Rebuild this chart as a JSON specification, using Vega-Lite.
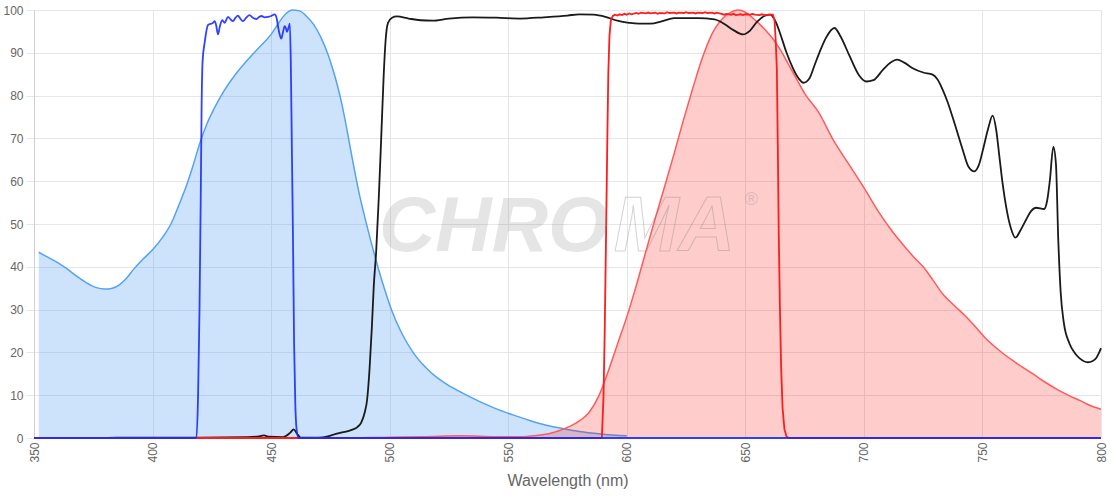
{
  "$schema": "https://vega.github.io/schema/vega-lite/v6.json",
  "width": 1067,
  "height": 428,
  "autosize": {"type": "none"},
  "padding": {"left": 34, "top": 10, "right": 19, "bottom": 62},
  "background": "white",
  "config": {
    "view": {"stroke": null},
    "font": "Liberation Sans",
    "axis": {
      "labelColor": "#666666",
      "labelFontSize": 12,
      "titleColor": "#666666",
      "gridColor": "#e6e6e6",
      "tickColor": "#e6e6e6",
      "domainColor": "#d0d0d0"
    }
  },
  "datasets": {
    "excitation": [
      {"wl": 352, "v": 43.4}, {"wl": 356, "v": 42.2}, {"wl": 360, "v": 41.0}, {"wl": 364, "v": 39.5},
      {"wl": 368, "v": 37.8}, {"wl": 372, "v": 36.3}, {"wl": 376, "v": 35.2}, {"wl": 380, "v": 34.8},
      {"wl": 383, "v": 35.0}, {"wl": 386, "v": 35.8}, {"wl": 389, "v": 37.3}, {"wl": 392, "v": 39.4},
      {"wl": 396, "v": 41.8}, {"wl": 400, "v": 44.0}, {"wl": 404, "v": 46.7}, {"wl": 408, "v": 50.3},
      {"wl": 411, "v": 54.3}, {"wl": 414, "v": 58.5}, {"wl": 417, "v": 63.5}, {"wl": 420, "v": 69.0},
      {"wl": 423, "v": 73.5}, {"wl": 426, "v": 77.0}, {"wl": 430, "v": 81.0}, {"wl": 435, "v": 85.0},
      {"wl": 440, "v": 88.3}, {"wl": 445, "v": 91.3}, {"wl": 450, "v": 94.3}, {"wl": 453, "v": 96.8},
      {"wl": 456, "v": 99.0}, {"wl": 459, "v": 100.0}, {"wl": 462, "v": 99.8}, {"wl": 465, "v": 98.5},
      {"wl": 468, "v": 96.6}, {"wl": 471, "v": 93.6}, {"wl": 474, "v": 89.6}, {"wl": 476, "v": 86.2},
      {"wl": 478, "v": 82.3}, {"wl": 480, "v": 77.6}, {"wl": 482, "v": 72.0}, {"wl": 484, "v": 66.0},
      {"wl": 487, "v": 57.5}, {"wl": 490, "v": 50.5}, {"wl": 494, "v": 42.0}, {"wl": 498, "v": 34.5},
      {"wl": 501, "v": 29.6}, {"wl": 505, "v": 24.6}, {"wl": 510, "v": 19.9}, {"wl": 515, "v": 16.6},
      {"wl": 520, "v": 14.1}, {"wl": 524, "v": 12.6}, {"wl": 530, "v": 10.7}, {"wl": 538, "v": 8.5},
      {"wl": 545, "v": 6.8}, {"wl": 552, "v": 5.4}, {"wl": 559, "v": 4.1}, {"wl": 566, "v": 3.0},
      {"wl": 573, "v": 2.2}, {"wl": 580, "v": 1.5}, {"wl": 590, "v": 0.9}, {"wl": 600, "v": 0.5}
    ],
    "emission": [
      {"wl": 350, "v": 0}, {"wl": 480, "v": 0}, {"wl": 500, "v": 0.2}, {"wl": 515, "v": 0.3},
      {"wl": 530, "v": 0.5}, {"wl": 545, "v": 0.3}, {"wl": 555, "v": 0.3}, {"wl": 562, "v": 0.6},
      {"wl": 567, "v": 1.0}, {"wl": 572, "v": 1.8}, {"wl": 576, "v": 2.7}, {"wl": 580, "v": 4.0},
      {"wl": 584, "v": 5.9}, {"wl": 588, "v": 9.6}, {"wl": 592, "v": 15.3}, {"wl": 596, "v": 21.8},
      {"wl": 600, "v": 28.3}, {"wl": 604, "v": 35.6}, {"wl": 608, "v": 43.5}, {"wl": 612, "v": 51.3},
      {"wl": 616, "v": 58.8}, {"wl": 620, "v": 66.5}, {"wl": 624, "v": 74.5}, {"wl": 628, "v": 82.0},
      {"wl": 632, "v": 89.0}, {"wl": 636, "v": 94.5}, {"wl": 640, "v": 97.8}, {"wl": 644, "v": 99.5},
      {"wl": 647, "v": 100.0}, {"wl": 650, "v": 99.5}, {"wl": 653, "v": 98.2}, {"wl": 656, "v": 96.7},
      {"wl": 659, "v": 95.0}, {"wl": 662, "v": 93.0}, {"wl": 665, "v": 90.5}, {"wl": 668, "v": 87.5},
      {"wl": 671, "v": 84.5}, {"wl": 675, "v": 80.5}, {"wl": 681, "v": 76.0}, {"wl": 687, "v": 69.7},
      {"wl": 693, "v": 64.5}, {"wl": 700, "v": 58.5}, {"wl": 706, "v": 53.0}, {"wl": 711, "v": 49.0},
      {"wl": 716, "v": 45.5}, {"wl": 721, "v": 42.3}, {"wl": 725, "v": 40.0}, {"wl": 729, "v": 37.0},
      {"wl": 733, "v": 33.8}, {"wl": 738, "v": 31.0}, {"wl": 743, "v": 28.4}, {"wl": 747, "v": 26.0},
      {"wl": 751, "v": 23.5}, {"wl": 757, "v": 20.5}, {"wl": 763, "v": 18.0}, {"wl": 767, "v": 16.5},
      {"wl": 771, "v": 15.1}, {"wl": 776, "v": 13.2}, {"wl": 782, "v": 11.2}, {"wl": 787, "v": 9.8},
      {"wl": 791, "v": 8.8}, {"wl": 795, "v": 7.7}, {"wl": 800, "v": 6.7}
    ],
    "dichroic": [
      {"wl": 381, "v": 0}, {"wl": 385, "v": 0.1}, {"wl": 400, "v": 0.1}, {"wl": 420, "v": 0.1},
      {"wl": 440, "v": 0.2}, {"wl": 445, "v": 0.4}, {"wl": 447, "v": 0.6}, {"wl": 449, "v": 0.3},
      {"wl": 455, "v": 0.2}, {"wl": 458, "v": 1.2}, {"wl": 459.5, "v": 2.0}, {"wl": 461, "v": 1.0},
      {"wl": 462.5, "v": 0.1}, {"wl": 470, "v": 0.1}, {"wl": 474, "v": 0.4}, {"wl": 477, "v": 0.9},
      {"wl": 480, "v": 1.3}, {"wl": 484, "v": 1.9}, {"wl": 486.5, "v": 2.6}, {"wl": 488, "v": 3.6},
      {"wl": 489.5, "v": 6.0}, {"wl": 490.5, "v": 9.0}, {"wl": 491.5, "v": 16.0}, {"wl": 492.5, "v": 26.0},
      {"wl": 493.3, "v": 35.5}, {"wl": 494.3, "v": 43.5}, {"wl": 495.4, "v": 56.0}, {"wl": 496.5, "v": 71.0},
      {"wl": 497.5, "v": 85.0}, {"wl": 498.3, "v": 93.0}, {"wl": 499.3, "v": 97.0}, {"wl": 501, "v": 98.2},
      {"wl": 503, "v": 98.5}, {"wl": 508, "v": 98.0}, {"wl": 513, "v": 97.6}, {"wl": 518, "v": 97.5},
      {"wl": 525, "v": 98.0}, {"wl": 535, "v": 98.3}, {"wl": 545, "v": 98.2}, {"wl": 555, "v": 98.0},
      {"wl": 565, "v": 98.3}, {"wl": 575, "v": 98.7}, {"wl": 580, "v": 99.0}, {"wl": 586, "v": 98.9},
      {"wl": 591, "v": 98.4}, {"wl": 596, "v": 97.5}, {"wl": 601, "v": 97.0}, {"wl": 605, "v": 96.8},
      {"wl": 610, "v": 96.8}, {"wl": 615, "v": 97.4}, {"wl": 620, "v": 98.1}, {"wl": 630, "v": 98.1},
      {"wl": 637, "v": 97.8}, {"wl": 641, "v": 96.8}, {"wl": 645, "v": 95.3}, {"wl": 649, "v": 94.3},
      {"wl": 652, "v": 95.2}, {"wl": 655, "v": 97.3}, {"wl": 658, "v": 98.6}, {"wl": 660.5, "v": 98.9},
      {"wl": 663, "v": 97.0}, {"wl": 665, "v": 94.0}, {"wl": 667.2, "v": 90.3}, {"wl": 670, "v": 86.5},
      {"wl": 672.5, "v": 84.0}, {"wl": 674.5, "v": 83.0}, {"wl": 677, "v": 84.0}, {"wl": 679, "v": 86.8},
      {"wl": 681.2, "v": 90.0}, {"wl": 684, "v": 93.5}, {"wl": 687.6, "v": 95.8}, {"wl": 690, "v": 94.0},
      {"wl": 694, "v": 89.2}, {"wl": 698, "v": 84.7}, {"wl": 701, "v": 83.3}, {"wl": 704, "v": 83.6},
      {"wl": 708, "v": 86.0}, {"wl": 711, "v": 87.6}, {"wl": 714, "v": 88.4}, {"wl": 717, "v": 87.7},
      {"wl": 720.6, "v": 86.4}, {"wl": 725, "v": 85.4}, {"wl": 729, "v": 84.9}, {"wl": 731, "v": 83.8},
      {"wl": 733.2, "v": 81.4}, {"wl": 735.3, "v": 78.5}, {"wl": 737.4, "v": 75.0}, {"wl": 741.7, "v": 67.3},
      {"wl": 744, "v": 63.5}, {"wl": 746.6, "v": 62.3}, {"wl": 748.5, "v": 63.8}, {"wl": 750.5, "v": 68.0},
      {"wl": 752.5, "v": 72.5}, {"wl": 754.3, "v": 75.3}, {"wl": 755.8, "v": 72.0}, {"wl": 757.1, "v": 66.0},
      {"wl": 758.5, "v": 59.5}, {"wl": 760, "v": 54.0}, {"wl": 762, "v": 49.0}, {"wl": 763.9, "v": 46.8},
      {"wl": 766, "v": 48.5}, {"wl": 768.4, "v": 51.0}, {"wl": 770.5, "v": 53.0}, {"wl": 772.6, "v": 53.8},
      {"wl": 776, "v": 53.5}, {"wl": 777.3, "v": 55.5}, {"wl": 778.4, "v": 60.0}, {"wl": 779.9, "v": 68.0},
      {"wl": 781, "v": 64.0}, {"wl": 782, "v": 46.0}, {"wl": 783, "v": 34.0}, {"wl": 784.3, "v": 27.0},
      {"wl": 786.6, "v": 22.2}, {"wl": 789, "v": 19.8}, {"wl": 791, "v": 18.6}, {"wl": 794.4, "v": 17.7},
      {"wl": 796.5, "v": 18.0}, {"wl": 798, "v": 18.7}, {"wl": 799, "v": 19.7}, {"wl": 800, "v": 21.0}
    ],
    "exciter": [
      {"wl": 350, "v": 0}, {"wl": 418.5, "v": 0}, {"wl": 419.2, "v": 10}, {"wl": 419.8, "v": 30},
      {"wl": 420.3, "v": 55}, {"wl": 420.7, "v": 78}, {"wl": 421.1, "v": 88}, {"wl": 422, "v": 92.5},
      {"wl": 423.4, "v": 96.5}, {"wl": 425.5, "v": 97.0}, {"wl": 426.2, "v": 97.4}, {"wl": 426.8, "v": 96.5},
      {"wl": 427.6, "v": 94.3}, {"wl": 428.4, "v": 96.2}, {"wl": 429.4, "v": 97.6}, {"wl": 430.4, "v": 97.0},
      {"wl": 431.8, "v": 98.4}, {"wl": 432.9, "v": 97.8}, {"wl": 433.9, "v": 97.4}, {"wl": 435, "v": 98.2},
      {"wl": 436, "v": 98.7}, {"wl": 437, "v": 98.0}, {"wl": 438.1, "v": 97.4}, {"wl": 439.5, "v": 98.2},
      {"wl": 440.9, "v": 98.8}, {"wl": 442.3, "v": 98.2}, {"wl": 443.8, "v": 97.9}, {"wl": 445, "v": 98.4},
      {"wl": 445.9, "v": 98.6}, {"wl": 447.3, "v": 98.3}, {"wl": 448.7, "v": 98.4}, {"wl": 450, "v": 98.6},
      {"wl": 451.5, "v": 99.0}, {"wl": 452.3, "v": 98.2}, {"wl": 452.9, "v": 96.2}, {"wl": 453.6, "v": 94.3},
      {"wl": 454.3, "v": 93.3}, {"wl": 455, "v": 94.8}, {"wl": 455.7, "v": 96.2}, {"wl": 456.2, "v": 95.8},
      {"wl": 456.7, "v": 94.9}, {"wl": 457.3, "v": 95.8}, {"wl": 457.9, "v": 96.8}, {"wl": 458.3, "v": 88},
      {"wl": 458.7, "v": 70}, {"wl": 459.2, "v": 48}, {"wl": 459.7, "v": 22}, {"wl": 460.2, "v": 8},
      {"wl": 460.7, "v": 2.3}, {"wl": 461.5, "v": 0}, {"wl": 800, "v": 0}
    ],
    "barrier": [
      {"wl": 350, "v": 0}, {"wl": 589.5, "v": 0}, {"wl": 590.2, "v": 10}, {"wl": 590.7, "v": 25},
      {"wl": 591.2, "v": 45}, {"wl": 591.7, "v": 66}, {"wl": 592.2, "v": 85}, {"wl": 592.7, "v": 94},
      {"wl": 593.3, "v": 97.6}, {"wl": 594.1, "v": 98.6}, {"wl": 595, "v": 98.9}, {"wl": 596, "v": 98.7},
      {"wl": 597, "v": 99.0}, {"wl": 598, "v": 98.8}, {"wl": 599, "v": 99.1}, {"wl": 600, "v": 98.9},
      {"wl": 601, "v": 99.2}, {"wl": 602, "v": 99.0}, {"wl": 604, "v": 99.3}, {"wl": 605, "v": 99.1},
      {"wl": 606, "v": 99.4}, {"wl": 608, "v": 99.2}, {"wl": 609, "v": 99.4}, {"wl": 610, "v": 99.2},
      {"wl": 612, "v": 99.4}, {"wl": 613, "v": 99.1}, {"wl": 614, "v": 99.3}, {"wl": 616, "v": 99.2},
      {"wl": 617, "v": 99.5}, {"wl": 618, "v": 99.3}, {"wl": 620, "v": 99.4}, {"wl": 621, "v": 99.2},
      {"wl": 622, "v": 99.4}, {"wl": 624, "v": 99.3}, {"wl": 625, "v": 99.5}, {"wl": 626, "v": 99.3},
      {"wl": 628, "v": 99.4}, {"wl": 629, "v": 99.2}, {"wl": 630, "v": 99.4}, {"wl": 632, "v": 99.3},
      {"wl": 633, "v": 99.5}, {"wl": 634, "v": 99.3}, {"wl": 636, "v": 99.4}, {"wl": 637, "v": 99.2},
      {"wl": 638, "v": 99.4}, {"wl": 640, "v": 99.1}, {"wl": 641, "v": 98.9}, {"wl": 642, "v": 99.1},
      {"wl": 644, "v": 98.9}, {"wl": 645, "v": 99.1}, {"wl": 646, "v": 98.8}, {"wl": 648, "v": 99.0},
      {"wl": 649, "v": 98.8}, {"wl": 650, "v": 99.0}, {"wl": 652, "v": 98.9}, {"wl": 653, "v": 99.1},
      {"wl": 654, "v": 98.9}, {"wl": 656, "v": 98.8}, {"wl": 657, "v": 99.0}, {"wl": 658, "v": 98.8},
      {"wl": 660, "v": 98.9}, {"wl": 661.6, "v": 98.9},
      {"wl": 662.3, "v": 97.7}, {"wl": 662.8, "v": 93}, {"wl": 663.3, "v": 86}, {"wl": 663.7, "v": 68},
      {"wl": 664.1, "v": 47.5}, {"wl": 664.6, "v": 30}, {"wl": 665.1, "v": 16.5}, {"wl": 665.7, "v": 7},
      {"wl": 666.5, "v": 2}, {"wl": 667.4, "v": 0.3}, {"wl": 668.5, "v": 0}, {"wl": 800, "v": 0}
    ]
  },
  "layer": [
    {
      "data": {"name": "excitation"},
      "mark": {
        "type": "area",
        "interpolate": "monotone",
        "fill": "#55a2f2",
        "fillOpacity": 0.3,
        "line": {"stroke": "#55a2f2", "strokeWidth": 1.5}
      },
      "encoding": {
        "x": {
          "field": "wl",
          "type": "quantitative",
          "title": "Wavelength (nm)",
          "scale": {"domain": [350, 800], "nice": false, "zero": false},
          "axis": {
            "titleFontSize": 16,
            "titleFontWeight": "normal",
            "titlePadding": 10,
            "values": [350, 400, 450, 500, 550, 600, 650, 700, 750, 800],
            "labelAngle": -90,
            "labelPadding": 4,
            "ticks": false,
            "domain": false
          }
        },
        "y": {
          "field": "v",
          "type": "quantitative",
          "title": null,
          "scale": {"domain": [0, 100], "nice": false},
          "axis": {
            "values": [0, 10, 20, 30, 40, 50, 60, 70, 80, 90, 100],
            "tickSize": 8,
            "labelPadding": 3
          }
        }
      }
    },
    {
      "data": {"name": "emission"},
      "mark": {
        "type": "area",
        "interpolate": "monotone",
        "fill": "#ff0000",
        "fillOpacity": 0.2,
        "line": {"stroke": "#ff5a5a", "strokeWidth": 1.5}
      },
      "encoding": {
        "x": {"field": "wl", "type": "quantitative", "title": "Wavelength (nm)"},
        "y": {"field": "v", "type": "quantitative", "title": null}
      }
    },
    {
      "data": {"name": "dichroic"},
      "mark": {"type": "line", "interpolate": "monotone", "stroke": "#1a1a1a", "strokeWidth": 1.8},
      "encoding": {
        "x": {"field": "wl", "type": "quantitative", "title": "Wavelength (nm)"},
        "y": {"field": "v", "type": "quantitative", "title": null}
      }
    },
    {
      "data": {"name": "barrier"},
      "mark": {"type": "line", "interpolate": "linear", "stroke": "#ff1c1c", "strokeWidth": 1.8},
      "encoding": {
        "x": {"field": "wl", "type": "quantitative", "title": "Wavelength (nm)"},
        "y": {"field": "v", "type": "quantitative", "title": null}
      }
    },
    {
      "data": {"name": "exciter"},
      "mark": {"type": "line", "interpolate": "monotone", "stroke": "#1a2cff", "strokeWidth": 1.8, "opacity": 0.9},
      "encoding": {
        "x": {"field": "wl", "type": "quantitative", "title": "Wavelength (nm)"},
        "y": {"field": "v", "type": "quantitative", "title": null}
      }
    },
    {
      "data": {"values": [{"word": "CHRO"}]},
      "mark": {
        "type": "text",
        "font": "Liberation Sans",
        "fontSize": 78,
        "fontWeight": "bold",
        "fontStyle": "italic",
        "align": "left",
        "baseline": "alphabetic",
        "fill": "#808080",
        "opacity": 0.2
      },
      "encoding": {
        "x": {"datum": 495.5},
        "y": {"datum": 43.6},
        "text": {"field": "word"}
      }
    },
    {
      "data": {"values": [{"word": "MA"}]},
      "mark": {
        "type": "text",
        "font": "Liberation Sans",
        "fontSize": 78,
        "fontWeight": "bold",
        "fontStyle": "italic",
        "align": "left",
        "baseline": "alphabetic",
        "fill": "#ffffff",
        "fillOpacity": 0,
        "stroke": "#808080",
        "strokeWidth": 1,
        "strokeOpacity": 0.35
      },
      "encoding": {
        "x": {"datum": 594.5},
        "y": {"datum": 43.6},
        "text": {"field": "word"}
      }
    },
    {
      "data": {"values": [{"word": "®"}]},
      "mark": {
        "type": "text",
        "font": "Liberation Sans",
        "fontSize": 18,
        "align": "center",
        "baseline": "middle",
        "fill": "#808080",
        "opacity": 0.25
      },
      "encoding": {
        "x": {"datum": 652.5},
        "y": {"datum": 55.6},
        "text": {"field": "word"}
      }
    }
  ]
}
